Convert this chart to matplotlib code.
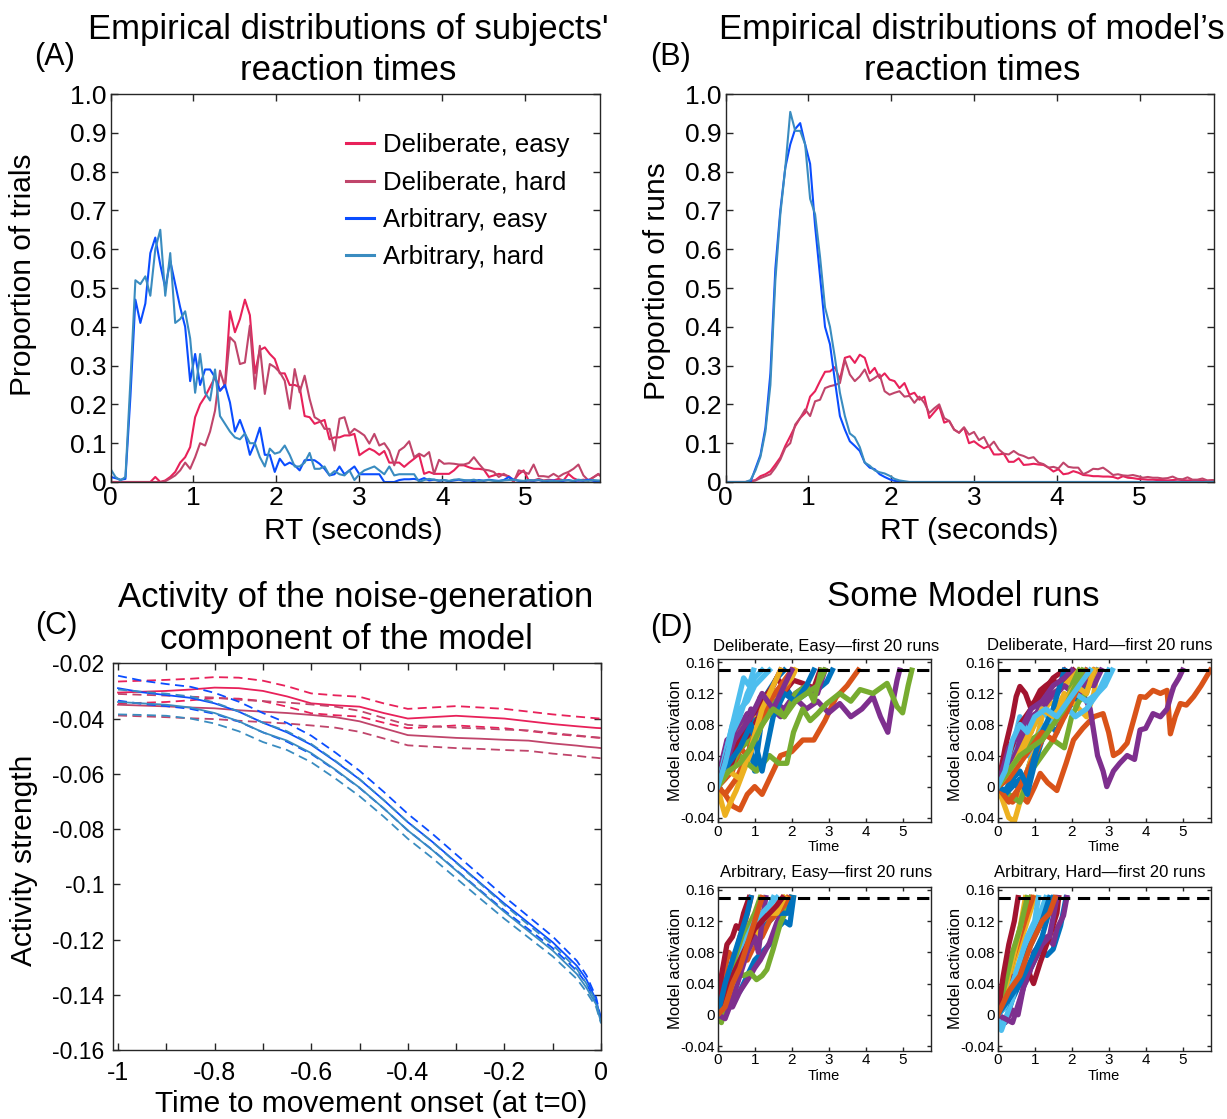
import numpy as np
import matplotlib
matplotlib.use("Agg")
import matplotlib.pyplot as plt

plt.rcParams['font.family'] = ['Liberation Sans', 'DejaVu Sans']

c_de = '#E8215A'
c_dh = '#C0456B'
c_ae = '#0A4DFF'
c_ah = '#3A8CC0'
matlab_cols = ['#0072BD', '#D95319', '#EDB120', '#7E2F8E', '#77AC30', '#4DBEEE', '#A2142F']

# RT bins (s), 0.06 s wide
rt_bins = np.arange(100) * 0.06

# (A) subjects' RT distributions
subj_de = [0, 0, 0, 0, 0, 0, 0, 0, 0,
           0.013, 0.0, 0.004, 0.013, 0.026, 0.05, 0.064, 0.09, 0.167, 0.20, 0.22,
           0.245, 0.27, 0.236, 0.25, 0.44, 0.386, 0.42, 0.47, 0.43, 0.28,
           0.34, 0.347, 0.33, 0.317, 0.28, 0.28, 0.25, 0.25, 0.245, 0.17,
           0.167, 0.15, 0.155, 0.16, 0.11, 0.115, 0.115, 0.12, 0.12, 0.124,
           0.069, 0.078, 0.086, 0.08, 0.07, 0.08, 0.05, 0.05, 0.05, 0.039,
           0.05, 0.06, 0.07, 0.021, 0.026, 0.021, 0.021, 0.021, 0.021, 0.03,
           0.043, 0.043, 0.038, 0.034, 0.034, 0.032, 0.013, 0.017, 0.021, 0.018,
           0.015, 0.004, 0.02, 0.03, 0.004, 0.004, 0.008, 0.004, 0.006, 0.004,
           0.008, 0.004, 0.021, 0.01, 0.004, 0.006, 0.004, 0.012, 0.02, 0.01]
subj_dh = [0, 0, 0, 0, 0, 0, 0, 0, 0, 0, 0,
           0.002, 0.009, 0.017, 0.03, 0.05, 0.034, 0.064, 0.10, 0.094,
           0.13, 0.184, 0.287, 0.244, 0.373, 0.36, 0.304, 0.308, 0.403, 0.24,
           0.351, 0.227, 0.304, 0.296, 0.283, 0.261, 0.189, 0.291, 0.231, 0.274,
           0.214, 0.167, 0.159, 0.137, 0.137, 0.081, 0.163, 0.167, 0.124, 0.137,
           0.129, 0.12, 0.099, 0.124, 0.094, 0.10, 0.081, 0.043, 0.081, 0.09,
           0.105, 0.064, 0.073, 0.066, 0.077, 0.021, 0.057, 0.047, 0.048, 0.047,
           0.045, 0.045, 0.049, 0.064, 0.047, 0.032, 0.03, 0.026, 0.013, 0.021,
           0.013, 0.0, 0.03, 0.026, 0.021, 0.045, 0.015, 0.015, 0.013, 0.021,
           0.013, 0.021, 0.026, 0.034, 0.045, 0.017, 0.004, 0.012, 0.021, 0.01]
subj_ae = [0.013, 0.010, 0.006, 0.008, 0.22, 0.47, 0.41, 0.46, 0.59, 0.63,
           0.56, 0.50, 0.57, 0.51, 0.45, 0.40, 0.26, 0.33, 0.25, 0.29,
           0.29, 0.27, 0.235, 0.25, 0.205, 0.13, 0.16, 0.125, 0.07, 0.10,
           0.14, 0.07, 0.07, 0.026, 0.06, 0.043, 0.05, 0.043, 0.03, 0.056,
           0.057, 0.056, 0.047, 0.034, 0.017, 0.02, 0.04, 0.02, 0.03, 0.04,
           0.02, 0.02, 0.02, 0.02, 0.02, 0.0, 0.0, 0.0, 0.005, 0.007,
           0.007, 0.008, 0.005, 0.01, 0.004, 0.006, 0.003, 0.005, 0.002, 0.004,
           0.006, 0.003, 0.004, 0.002, 0.005, 0.003, 0.006, 0.004, 0.003, 0.005,
           0.013, 0.006, 0.003, 0.002, 0.004, 0.003, 0.005, 0.002, 0.003, 0.004,
           0.002, 0.003, 0.005, 0.002, 0.004, 0.003, 0.006, 0.003, 0.002, 0.004]
subj_ah = [0.034, 0.013, 0.004, 0.013, 0.26, 0.52, 0.51, 0.53, 0.48, 0.60,
           0.65, 0.48, 0.59, 0.41, 0.42, 0.44, 0.37, 0.23, 0.33, 0.23,
           0.21, 0.29, 0.17, 0.15, 0.13, 0.115, 0.11, 0.125, 0.10, 0.10,
           0.064, 0.04, 0.086, 0.073, 0.077, 0.094, 0.07, 0.04, 0.04, 0.05,
           0.075, 0.034, 0.034, 0.04, 0.017, 0.028, 0.02, 0.017, 0.03, 0.005,
           0.02, 0.03, 0.035, 0.04, 0.03, 0.02, 0.04, 0.017, 0.02, 0.02,
           0.02, 0.02, 0.0, 0.005, 0.008, 0.006, 0.004, 0.005, 0.003, 0.006,
           0.007, 0.005, 0.004, 0.006, 0.003, 0.004, 0.005, 0.003, 0.002, 0.004,
           0.005, 0.006, 0.004, 0.003, 0.005, 0.004, 0.006, 0.003, 0.004, 0.002,
           0.003, 0.005, 0.004, 0.003, 0.006, 0.004, 0.003, 0.005, 0.004, 0.003]

# (B) model RT distributions
model_de = [0, 0, 0, 0, 0, 0.002, 0.005, 0.015, 0.02, 0.028,
            0.045, 0.063, 0.093, 0.118, 0.144, 0.165, 0.178, 0.22, 0.234, 0.26,
            0.284, 0.285, 0.296, 0.264, 0.32, 0.324, 0.307, 0.328, 0.32, 0.28,
            0.294, 0.268, 0.28, 0.264, 0.26, 0.242, 0.255, 0.225, 0.23, 0.212,
            0.22, 0.165, 0.18, 0.195, 0.153, 0.158, 0.135, 0.127, 0.14, 0.10,
            0.105, 0.095, 0.087, 0.093, 0.071, 0.071, 0.073, 0.052, 0.052, 0.061,
            0.044, 0.045, 0.047, 0.045, 0.044, 0.037, 0.027, 0.033, 0.02, 0.022,
            0.028, 0.024, 0.018, 0.017, 0.015, 0.015, 0.014, 0.014, 0.013, 0.009,
            0.015, 0.011, 0.01, 0.008, 0.007, 0.006, 0.006, 0.005, 0.005, 0.004,
            0.005, 0.006, 0.005, 0.004, 0.005, 0.004, 0.004, 0.003, 0.004, 0.003]
model_dh = [0, 0, 0, 0, 0, 0.002, 0.004, 0.01, 0.015, 0.02,
            0.037, 0.058, 0.088, 0.10, 0.148, 0.165, 0.187, 0.17, 0.208, 0.212,
            0.242, 0.247, 0.25, 0.255, 0.315, 0.277, 0.26, 0.272, 0.29, 0.26,
            0.268, 0.277, 0.234, 0.225, 0.23, 0.234, 0.22, 0.222, 0.204, 0.22,
            0.204, 0.178, 0.19, 0.20, 0.165, 0.157, 0.135, 0.127, 0.141, 0.122,
            0.129, 0.108, 0.116, 0.091, 0.104, 0.084, 0.073, 0.071, 0.08, 0.071,
            0.067, 0.061, 0.064, 0.05, 0.046, 0.037, 0.039, 0.035, 0.05, 0.039,
            0.037, 0.037, 0.02, 0.026, 0.034, 0.033, 0.037, 0.028, 0.018, 0.02,
            0.017, 0.016, 0.018, 0.015, 0.011, 0.013, 0.011, 0.011, 0.009, 0.01,
            0.014, 0.008, 0.007, 0.012, 0.006, 0.006, 0.009, 0.004, 0.005, 0.003]
model_ae = [0, 0, 0, 0, 0, 0, 0.035, 0.07, 0.14, 0.28,
            0.55, 0.70, 0.81, 0.87, 0.91, 0.925, 0.87, 0.82, 0.66, 0.53,
            0.40, 0.355, 0.26, 0.17, 0.135, 0.105, 0.093, 0.08, 0.05, 0.037,
            0.033, 0.02, 0.013, 0.007, 0.003, 0.001, 0, 0, 0, 0] + [0.0] * 60
model_ah = [0, 0, 0, 0, 0, 0.005, 0.03, 0.065, 0.13, 0.25,
            0.52, 0.69, 0.81, 0.954, 0.905, 0.905, 0.87, 0.73, 0.69, 0.58,
            0.45, 0.40, 0.32, 0.23, 0.17, 0.125, 0.115, 0.09, 0.05, 0.042,
            0.03, 0.025, 0.022, 0.016, 0.008, 0.004, 0.002, 0, 0, 0] + [0.0] * 60

# (C) noise-generation activity, mean and s.e.m.
c_time = [-1.0, -0.95, -0.9, -0.85, -0.8, -0.75, -0.7, -0.65, -0.6, -0.55, -0.5, -0.45,
          -0.4, -0.35, -0.3, -0.25, -0.2, -0.15, -0.1, -0.05, -0.03, -0.01, 0.0]
act_de = [-0.0306, -0.0303, -0.030, -0.0295, -0.0288, -0.029, -0.030, -0.032, -0.0345, -0.0352,
          -0.0357, -0.038, -0.040, -0.0395, -0.039, -0.0395, -0.040, -0.041, -0.042, -0.0428,
          -0.0431, -0.0434, -0.0435]
act_dh = [-0.035, -0.0353, -0.0356, -0.036, -0.0363, -0.037, -0.0375, -0.038, -0.0387, -0.0395,
          -0.041, -0.0435, -0.046, -0.0465, -0.047, -0.0473, -0.0477, -0.048, -0.049, -0.0498,
          -0.0502, -0.0505, -0.0507]
act_ae = [-0.029, -0.0305, -0.0315, -0.0325, -0.0345, -0.0375, -0.0415, -0.045, -0.0495, -0.0555,
          -0.062, -0.0695, -0.0775, -0.0845, -0.092, -0.0995, -0.107, -0.114, -0.121, -0.1295,
          -0.1345, -0.142, -0.149]
act_ah = [-0.034, -0.0345, -0.035, -0.036, -0.038, -0.041, -0.045, -0.048, -0.0525, -0.0585,
          -0.065, -0.0725, -0.0805, -0.0875, -0.095, -0.1025, -0.110, -0.117, -0.124, -0.1325,
          -0.1375, -0.1435, -0.150]
sem_de = [0.004, 0.004, 0.004, 0.0039, 0.0038, 0.0038, 0.0037, 0.0037, 0.0036, 0.0036, 0.0036,
          0.0035, 0.0035, 0.0035, 0.0035, 0.0035, 0.0035, 0.0035, 0.0035, 0.0035, 0.0035, 0.0035, 0.0035]
sem_dh = [0.0039, 0.0039, 0.0039, 0.0039, 0.0039, 0.0038, 0.0038, 0.0038, 0.0038, 0.0038, 0.0038,
          0.0037, 0.0037, 0.0037, 0.0037, 0.0037, 0.0037, 0.0037, 0.0037, 0.0037, 0.0037, 0.0037, 0.0037]
sem_ae = [0.0045, 0.0042, 0.004, 0.004, 0.0038, 0.0036, 0.0035, 0.0034, 0.0033, 0.0032, 0.0031,
          0.003, 0.003, 0.0029, 0.0028, 0.0027, 0.0025, 0.0023, 0.0021, 0.0018, 0.0015, 0.001, 0.0003]
sem_ah = [0.0045, 0.0042, 0.004, 0.004, 0.0038, 0.0036, 0.0035, 0.0034, 0.0033, 0.0032, 0.0031,
          0.003, 0.003, 0.0029, 0.0028, 0.0027, 0.0025, 0.0023, 0.0021, 0.0018, 0.0015, 0.001, 0.0003]

# (D) example model runs (time, activation)
runs_de = [
    ([0, 0.2, 0.4, 0.6, 0.8, 1.0, 1.2, 1.5, 1.8, 2.1, 2.4, 2.7, 2.95, 3.1],
     [0.0, 0.02, 0.03, 0.05, 0.07, 0.02, 0.09, 0.12, 0.13, 0.11, 0.12, 0.125, 0.135, 0.15]),
    ([0, 0.2, 0.4, 0.6, 0.8, 1.0, 1.2, 1.4, 1.7, 2.0, 2.3, 2.6, 2.9, 3.2, 3.5, 3.8],
     [0.0, -0.01, -0.025, -0.03, -0.01, 0.0, -0.01, 0.01, 0.04, 0.045, 0.06, 0.06, 0.085, 0.115, 0.13, 0.15]),
    ([0, 0.1, 0.2, 0.35, 0.5, 0.7, 0.9, 1.15, 1.4, 1.7, 1.95, 2.05],
     [0.0, -0.02, -0.037, -0.02, -0.005, 0.02, 0.045, 0.075, 0.095, 0.128, 0.137, 0.15]),
    ([0, 0.1, 0.25, 0.5, 0.8, 1.1, 1.4, 1.7, 2.05, 2.4, 2.7, 3.0, 3.3, 3.6, 3.9, 4.2, 4.4, 4.6, 4.7, 4.85, 4.92],
     [0.0, 0.03, 0.06, 0.07, 0.094, 0.08, 0.103, 0.09, 0.116, 0.1, 0.11, 0.095, 0.107, 0.09, 0.1, 0.116, 0.09, 0.07, 0.1, 0.137, 0.15]),
    ([0, 0.2, 0.4, 0.6, 0.8, 1.05, 1.4, 1.65, 1.87, 2.05, 2.3, 2.5, 2.7, 2.95, 3.3, 3.6, 3.85, 4.2, 4.58, 4.85, 5.0, 5.15, 5.25],
     [0.0, 0.01, 0.03, 0.04, 0.03, 0.02, 0.04, 0.03, 0.03, 0.07, 0.1, 0.085, 0.094, 0.107, 0.12, 0.11, 0.125, 0.12, 0.133, 0.103, 0.095, 0.13, 0.15]),
    ([0, 0.15, 0.3, 0.5, 0.7, 0.85, 0.97], [0.0, 0.03, 0.06, 0.1, 0.14, 0.13, 0.15]),
    ([0, 0.25, 0.5, 0.8, 1.0, 1.15, 1.4, 1.6, 1.85, 2.05, 2.3, 2.6, 2.77],
     [0.0, 0.017, 0.04, 0.06, 0.09, 0.115, 0.12, 0.14, 0.125, 0.137, 0.133, 0.127, 0.15]),
    ([0, 0.2, 0.4, 0.6, 0.8, 1.0, 1.2, 1.4, 1.6, 1.8], [0.0, 0.02, 0.04, 0.06, 0.075, 0.095, 0.11, 0.125, 0.14, 0.15]),
    ([0, 0.2, 0.4, 0.6, 0.8, 1.0, 1.3, 1.6, 1.9, 2.05], [0.0, 0.01, 0.02, 0.05, 0.04, 0.07, 0.09, 0.11, 0.13, 0.15]),
    ([0, 0.3, 0.6, 0.9, 1.2, 1.5, 1.8, 2.0, 2.1], [0.0, 0.03, 0.07, 0.09, 0.1, 0.12, 0.13, 0.14, 0.15]),
    ([0, 0.3, 0.6, 0.9, 1.2, 1.5, 1.8, 2.1, 2.4, 2.7, 2.9], [0.0, 0.04, 0.06, 0.1, 0.09, 0.11, 0.1, 0.12, 0.13, 0.12, 0.15]),
    ([0, 0.3, 0.6, 0.9, 1.2, 1.5, 1.8, 2.1, 2.4, 2.6, 2.8], [0.0, 0.02, 0.05, 0.06, 0.08, 0.11, 0.09, 0.12, 0.13, 0.11, 0.15]),
    ([0, 0.2, 0.4, 0.6, 0.8, 1.0, 1.2, 1.4], [0.0, 0.04, 0.08, 0.1, 0.11, 0.13, 0.14, 0.15]),
    ([0, 0.3, 0.6, 0.9, 1.2, 1.5, 1.7], [0.0, 0.02, 0.06, 0.09, 0.11, 0.13, 0.15]),
    ([0, 0.3, 0.6, 0.9, 1.2, 1.5, 1.8, 2.1, 2.4, 2.6], [0.0, 0.03, 0.05, 0.08, 0.02, 0.09, 0.12, 0.11, 0.13, 0.15]),
    ([0, 0.2, 0.5, 0.8, 1.1, 1.4, 1.7, 2.0], [0.0, -0.01, 0.01, 0.04, 0.08, 0.11, 0.13, 0.15]),
    ([0, 0.3, 0.6, 0.9, 1.2, 1.5, 1.7], [0.0, 0.02, 0.01, 0.05, 0.1, 0.13, 0.15]),
    ([0, 0.3, 0.6, 0.9, 1.2, 1.5, 1.8, 2.0], [0.0, 0.05, 0.07, 0.09, 0.12, 0.1, 0.13, 0.15]),
    ([0, 0.3, 0.6, 0.9, 1.2, 1.5, 1.8, 2.1, 2.4, 2.7, 2.9], [0.0, 0.02, 0.03, 0.05, 0.08, 0.1, 0.09, 0.11, 0.12, 0.13, 0.15]),
    ([0, 0.2, 0.4, 0.6, 0.8, 1.0, 1.2], [0.0, 0.03, 0.07, 0.09, 0.12, 0.14, 0.15]),
]
runs_dh = [
    ([0, 0.2, 0.4, 0.6, 0.8, 1.0, 1.3, 1.6, 1.9, 2.2, 2.5, 2.7],
     [0.0, -0.01, 0.01, -0.005, 0.02, 0.05, 0.07, 0.09, 0.1, 0.12, 0.13, 0.15]),
    ([0, 0.2, 0.4, 0.6, 0.8, 1.0, 1.15, 1.35, 1.6, 1.85, 2.05, 2.3, 2.6, 2.85, 3.0, 3.13, 3.3, 3.5, 3.7, 3.85,
      4.0, 4.2, 4.4, 4.58, 4.67, 4.8, 4.94, 5.1, 5.3, 5.5, 5.75],
     [0.0, -0.013, -0.02, -0.01, -0.02, 0.0, 0.017, 0.005, -0.005, 0.03, 0.06, 0.075, 0.09, 0.094, 0.07, 0.04,
      0.045, 0.056, 0.09, 0.116, 0.115, 0.124, 0.12, 0.124, 0.068, 0.09, 0.107, 0.105, 0.116, 0.13, 0.15]),
    ([0, 0.15, 0.3, 0.45, 0.6, 0.8, 1.0, 1.2, 1.4, 1.6, 1.8, 2.0, 2.2, 2.4, 2.6, 2.7],
     [0.0, -0.02, -0.04, -0.045, -0.02, 0.02, 0.05, 0.09, 0.11, 0.1, 0.12, 0.11, 0.1, 0.09, 0.12, 0.15]),
    ([0, 0.25, 0.5, 0.7, 0.9, 1.1, 1.3, 1.6, 1.8, 2.05, 2.3, 2.5, 2.6, 2.7, 2.85, 2.95, 3.13, 3.3, 3.5, 3.7,
      3.85, 4.0, 4.2, 4.4, 4.58, 4.7, 4.76, 4.9, 5.0],
     [0.0, 0.04, 0.06, 0.085, 0.07, 0.1, 0.11, 0.12, 0.13, 0.12, 0.12, 0.1, 0.07, 0.04, 0.02, 0.0, 0.02, 0.03,
      0.04, 0.035, 0.073, 0.075, 0.094, 0.09, 0.1, 0.12, 0.129, 0.14, 0.15]),
    ([0, 0.3, 0.6, 0.9, 1.2, 1.5, 1.8, 2.0, 2.2, 2.4, 2.6], [0.0, -0.01, -0.02, 0.02, 0.04, 0.06, 0.05, 0.09, 0.11, 0.12, 0.15]),
    ([0, 0.2, 0.4, 0.6, 0.8, 1.0, 1.3, 1.6, 1.9, 2.1, 2.4, 2.7, 2.9, 3.1],
     [0.0, 0.02, 0.04, 0.05, 0.04, 0.06, 0.08, 0.09, 0.1, 0.09, 0.1, 0.12, 0.13, 0.15]),
    ([0, 0.2, 0.4, 0.5, 0.6, 0.75, 0.88, 1.0, 1.15, 1.3, 1.5, 1.7, 1.87, 2.05],
     [0.0, 0.05, 0.09, 0.116, 0.129, 0.12, 0.103, 0.11, 0.124, 0.13, 0.137, 0.13, 0.14, 0.15]),
    ([0, 0.2, 0.4, 0.6, 0.8, 1.0, 1.2, 1.4, 1.6, 1.8, 2.0, 2.2, 2.4],
     [0.0, -0.01, 0.0, 0.01, -0.01, 0.03, 0.06, 0.08, 0.07, 0.1, 0.12, 0.13, 0.15]),
    ([0, 0.3, 0.6, 0.9, 1.2, 1.5, 1.8, 2.1, 2.4, 2.6], [0.0, -0.02, 0.0, 0.03, 0.06, 0.08, 0.09, 0.12, 0.14, 0.15]),
    ([0, 0.3, 0.6, 0.9, 1.2, 1.5, 1.8, 2.0, 2.2], [0.0, 0.02, 0.05, 0.08, 0.1, 0.12, 0.13, 0.14, 0.15]),
    ([0, 0.3, 0.6, 0.9, 1.2, 1.5, 1.8, 2.1, 2.4, 2.6, 2.8], [0.0, 0.03, 0.06, 0.09, 0.1, 0.12, 0.13, 0.12, 0.135, 0.13, 0.15]),
    ([0, 0.3, 0.6, 0.9, 1.2, 1.5, 1.8, 2.0, 2.2], [0.0, 0.01, 0.03, 0.06, 0.07, 0.08, 0.1, 0.13, 0.15]),
    ([0, 0.2, 0.4, 0.6, 0.8, 1.0, 1.2, 1.5, 1.8, 2.1, 2.4, 2.7, 3.0],
     [0.0, 0.03, 0.05, 0.09, 0.07, 0.08, 0.1, 0.08, 0.1, 0.12, 0.11, 0.12, 0.15]),
    ([0, 0.3, 0.6, 0.9, 1.2, 1.5, 1.8], [0.0, 0.04, 0.08, 0.1, 0.12, 0.14, 0.15]),
    ([0, 0.2, 0.4, 0.6, 0.8, 1.0, 1.2, 1.5, 1.8], [0.0, -0.005, 0.01, 0.02, 0.0, 0.04, 0.07, 0.1, 0.15]),
    ([0, 0.3, 0.6, 0.9, 1.2, 1.5, 1.8, 2.1, 2.4], [0.0, 0.01, 0.03, 0.05, 0.07, 0.06, 0.09, 0.12, 0.15]),
    ([0, 0.3, 0.6, 0.9, 1.2, 1.5, 1.8, 2.1, 2.4, 2.6], [0.0, 0.02, 0.04, 0.07, 0.1, 0.09, 0.11, 0.13, 0.12, 0.15]),
    ([0, 0.3, 0.6, 0.9, 1.2, 1.5, 1.8, 2.0], [0.0, 0.05, 0.07, 0.1, 0.11, 0.13, 0.14, 0.15]),
    ([0, 0.3, 0.6, 0.9, 1.2, 1.5, 1.8, 2.1, 2.3], [0.0, 0.02, 0.04, 0.05, 0.06, 0.08, 0.1, 0.13, 0.15]),
    ([0, 0.2, 0.4, 0.6, 0.8, 1.0, 1.3, 1.6, 1.9, 2.2, 2.5], [0.0, 0.02, 0.06, 0.08, 0.07, 0.09, 0.1, 0.09, 0.11, 0.13, 0.15]),
]
runs_ae = [
    ([0, 0.2, 0.4, 0.6, 0.8, 1.0, 1.2, 1.4, 1.6, 1.8, 1.95, 2.05],
     [0.0, 0.01, 0.02, 0.03, 0.05, 0.07, 0.08, 0.09, 0.11, 0.12, 0.115, 0.15]),
    ([0, 0.15, 0.3, 0.45, 0.6, 0.75, 0.9], [0.0, 0.05, 0.08, 0.07, 0.1, 0.12, 0.15]),
    ([0, 0.2, 0.4, 0.6, 0.8, 1.0, 1.2, 1.4, 1.6, 1.8], [0.0, 0.03, 0.04, 0.06, 0.08, 0.09, 0.11, 0.12, 0.14, 0.15]),
    ([0, 0.2, 0.4, 0.6, 0.88, 1.0, 1.15, 1.4, 1.6, 1.82, 1.96],
     [0.0, 0.01, 0.01, 0.03, 0.05, 0.06, 0.07, 0.092, 0.118, 0.14, 0.15]),
    ([0, 0.1, 0.3, 0.5, 0.7, 0.88, 1.05, 1.2, 1.33, 1.5, 1.7, 1.87, 2.0],
     [0.0, -0.01, 0.03, 0.058, 0.05, 0.054, 0.045, 0.05, 0.058, 0.084, 0.118, 0.135, 0.15]),
    ([0, 0.15, 0.3, 0.45, 0.6, 0.8, 1.0, 1.2, 1.4, 1.6], [0.0, 0.01, 0.03, 0.06, 0.09, 0.11, 0.12, 0.13, 0.14, 0.15]),
    ([0, 0.1, 0.25, 0.4, 0.5, 0.6, 0.7, 0.85], [0.0, 0.05, 0.09, 0.1, 0.114, 0.11, 0.13, 0.15]),
    ([0, 0.2, 0.4, 0.6, 0.8, 1.0, 1.2, 1.4, 1.6, 1.9, 2.0], [0.0, 0.02, 0.04, 0.06, 0.08, 0.1, 0.11, 0.12, 0.13, 0.13, 0.15]),
    ([0, 0.2, 0.4, 0.6, 0.8, 1.0, 1.2, 1.4, 1.6, 1.8, 1.9], [0.0, 0.03, 0.06, 0.08, 0.07, 0.09, 0.1, 0.12, 0.13, 0.14, 0.15]),
    ([0, 0.2, 0.4, 0.6, 0.8, 1.0, 1.2, 1.4, 1.6, 1.8], [0.0, 0.02, 0.05, 0.06, 0.08, 0.1, 0.12, 0.13, 0.13, 0.15]),
    ([0, 0.2, 0.4, 0.6, 0.8, 1.0, 1.1, 1.2, 1.3], [0.0, -0.005, 0.02, 0.05, 0.08, 0.1, 0.08, 0.12, 0.15]),
    ([0, 0.2, 0.4, 0.6, 0.8, 1.0, 1.15], [0.0, 0.02, 0.06, 0.08, 0.11, 0.13, 0.15]),
    ([0, 0.2, 0.4, 0.6, 0.8, 1.0, 1.2, 1.4, 1.5], [0.0, 0.02, 0.04, 0.07, 0.1, 0.12, 0.13, 0.14, 0.15]),
    ([0, 0.2, 0.4, 0.6, 0.8, 1.0, 1.2, 1.4, 1.6, 1.75], [0.0, 0.03, 0.05, 0.07, 0.09, 0.11, 0.12, 0.13, 0.14, 0.15]),
    ([0, 0.2, 0.4, 0.6, 0.8, 0.9], [0.0, 0.04, 0.07, 0.1, 0.13, 0.15]),
    ([0, 0.2, 0.4, 0.6, 0.8, 1.0, 1.2], [0.0, 0.01, 0.04, 0.06, 0.09, 0.12, 0.15]),
]
runs_ah = [
    ([0, 0.2, 0.4, 0.6, 0.8, 1.0, 1.15, 1.33, 1.5, 1.7, 1.85],
     [0.0, -0.01, 0.02, 0.04, 0.05, 0.07, 0.084, 0.076, 0.084, 0.114, 0.15]),
    ([0, 0.15, 0.3, 0.45, 0.6, 0.75, 0.9], [0.0, 0.03, 0.05, 0.08, 0.1, 0.13, 0.15]),
    ([0, 0.15, 0.3, 0.45, 0.6, 0.8, 1.0], [0.0, 0.02, 0.04, 0.07, 0.09, 0.12, 0.15]),
    ([0, 0.2, 0.4, 0.55, 0.7, 0.85, 0.97, 1.15, 1.33, 1.5, 1.6, 1.78, 1.87],
     [0.0, -0.01, 0.006, 0.0, 0.036, 0.05, 0.08, 0.09, 0.1, 0.09, 0.11, 0.127, 0.15]),
    ([0, 0.15, 0.3, 0.45, 0.6, 0.75, 0.9], [0.0, 0.02, 0.05, 0.08, 0.11, 0.13, 0.15]),
    ([0, 0.1, 0.25, 0.4, 0.55, 0.7, 0.85, 1.0, 1.15, 1.3], [0.0, -0.02, 0.0, 0.02, 0.05, 0.08, 0.09, 0.11, 0.13, 0.15]),
    ([0, 0.2, 0.35, 0.5, 0.65, 0.8, 0.97, 1.15, 1.4, 1.6, 1.65],
     [0.0, 0.04, 0.05, 0.04, 0.05, 0.058, 0.04, 0.067, 0.1, 0.13, 0.15]),
    ([0, 0.2, 0.4, 0.6, 0.8, 1.0, 1.2, 1.4], [0.0, 0.01, 0.03, 0.06, 0.08, 0.1, 0.12, 0.15]),
    ([0, 0.2, 0.4, 0.6, 0.8, 0.95], [0.0, 0.04, 0.07, 0.1, 0.13, 0.15]),
    ([0, 0.2, 0.4, 0.6, 0.75], [0.0, 0.03, 0.07, 0.11, 0.15]),
    ([0, 0.2, 0.4, 0.6, 0.8, 1.0, 1.2, 1.4, 1.6], [0.0, -0.005, -0.01, 0.02, 0.05, 0.07, 0.09, 0.1, 0.15]),
    ([0, 0.2, 0.4, 0.6, 0.8], [0.0, 0.04, 0.08, 0.11, 0.15]),
    ([0, 0.2, 0.4, 0.6, 0.8, 1.0, 1.1], [0.0, 0.01, 0.04, 0.07, 0.1, 0.12, 0.15]),
    ([0, 0.15, 0.3, 0.45, 0.55], [0.0, 0.05, 0.09, 0.12, 0.15]),
    ([0, 0.3, 0.6, 0.9, 1.2, 1.5], [0.0, 0.02, 0.04, 0.07, 0.1, 0.15]),
    ([0, 0.3, 0.6, 0.9, 1.2, 1.4, 1.55], [0.0, 0.03, 0.05, 0.09, 0.12, 0.13, 0.15]),
]
threshold = 0.15

labels = ['Deliberate, easy', 'Deliberate, hard', 'Arbitrary, easy', 'Arbitrary, hard']
colors = [c_de, c_dh, c_ae, c_ah]

W, H = 1227, 1119
fig = plt.figure(figsize=(W / 100, H / 100), dpi=100)


def box(l, t, r, b):
    return [l / W, 1 - b / H, (r - l) / W, (b - t) / H]


def ftext(x, y, s, **kw):
    fig.text(x / W, 1 - y / H, s, ha='center', va='center', **kw)


def style(ax, size, pad=3, length=5):
    ax.tick_params(which='both', direction='in', top=True, right=True, labelsize=size,
                   width=1, color='#262626', pad=pad, length=length)
    for s in ax.spines.values():
        s.set_color('#262626')
        s.set_linewidth(1.0)


axA = fig.add_axes(box(110.5, 94, 600, 482))
axB = fig.add_axes(box(725.7, 94, 1214, 482))
axC = fig.add_axes(box(112.7, 663.3, 601, 1050))

ylab_ab = ['0', '0.1', '0.2', '0.3', '0.4', '0.5', '0.6', '0.7', '0.8', '0.9', '1.0']
for ax, series in [(axA, [subj_de, subj_dh, subj_ae, subj_ah]),
                   (axB, [model_de, model_dh, model_ae, model_ah])]:
    for y, col, lab in zip(series, colors, labels):
        ax.plot(rt_bins, y, color=col, lw=1.5, label=lab)
    ax.set_xlim(0, 5.9)
    ax.set_ylim(0, 1.0)
    ax.set_xticks([0, 1, 2, 3, 4, 5])
    ax.set_yticks(np.arange(11) / 10)
    ax.set_yticklabels(ylab_ab)
    style(ax, 19, pad=3)

leg = axA.legend(loc='upper left', bbox_to_anchor=(0.46, 0.925), frameon=False, fontsize=18.5,
                 handlelength=1.1, handletextpad=0.35, labelspacing=0.52, borderaxespad=0)
for h in leg.legend_handles:
    h.set_linewidth(2.2)

# (C)
for mean, sem, col in [(act_de, sem_de, c_de), (act_dh, sem_dh, c_dh),
                       (act_ae, sem_ae, c_ae), (act_ah, sem_ah, c_ah)]:
    m = np.array(mean)
    s = np.array(sem)
    axC.plot(c_time, m, color=col, lw=1.3)
    axC.plot(c_time, m + s, color=col, lw=1.3, ls=(0, (5, 3)))
    axC.plot(c_time, m - s, color=col, lw=1.3, ls=(0, (5, 3)))
axC.set_xlim(-1.011, 0)
axC.set_ylim(-0.16, -0.02)
axC.set_xticks([-1, -0.8, -0.6, -0.4, -0.2, 0])
axC.set_xticklabels(['-1', '-0.8', '-0.6', '-0.4', '-0.2', '0'])
axC.set_xticks([-0.9, -0.7, -0.5, -0.3, -0.1], minor=True)
axC.set_yticks([-0.16, -0.14, -0.12, -0.1, -0.08, -0.06, -0.04, -0.02])
axC.set_yticklabels(['-0.16', '-0.14', '-0.12', '-0.1', '-0.08', '-0.06', '-0.04', '-0.02'])
style(axC, 18, pad=8)
axC.tick_params(axis='y', labelsize=16.5, pad=6)

# (D)
d_boxes = [box(717.7, 659.3, 930.7, 822.3), box(997.7, 659.3, 1210.7, 822.3),
           box(717.7, 886.7, 930.7, 1050.7), box(997.7, 886.7, 1210.7, 1050.7)]
d_titles = ['Deliberate, Easy\u2014first 20 runs', 'Deliberate, Hard\u2014first 20 runs',
            'Arbitrary, Easy\u2014first 20 runs', 'Arbitrary, Hard\u2014first 20 runs']
d_runs = [runs_de, runs_dh, runs_ae, runs_ah]
d_title_pos = [(826, 646), (1100, 646), (826, 873), (1100, 873)]
for i in range(4):
    ax = fig.add_axes(d_boxes[i])
    for j, (t, y) in enumerate(d_runs[i]):
        ax.plot(t, y, color=matlab_cols[j % 7], lw=3.8)
    ax.axhline(threshold, color='k', lw=2.2, ls=(0, (4, 2.5)))
    ax.set_xlim(0, 5.76)
    ax.set_ylim(-0.046, 0.164)
    ax.set_xticks([0, 1, 2, 3, 4, 5])
    ax.set_yticks([-0.04, 0, 0.04, 0.08, 0.12, 0.16])
    ax.set_yticklabels(['-0.04', '0', '0.04', '0.08', '0.12', '0.16'])
    style(ax, 11, pad=2, length=3)
    x0 = d_boxes[i][0] * W
    ytop = (1 - d_boxes[i][1] - d_boxes[i][3]) * H
    ybot = (1 - d_boxes[i][1]) * H
    ftext(d_title_pos[i][0], d_title_pos[i][1], d_titles[i], fontsize=12)
    ftext(x0 - 42, (ytop + ybot) / 2, 'Model activation', fontsize=12, rotation=90)
    ftext(x0 + 106.5, ybot + 25, 'Time', fontsize=10.5)

# titles and labels
ftext(348, 30, "Empirical distributions of subjects'", fontsize=25)
ftext(348, 70, 'reaction times', fontsize=25)
ftext(972, 30, 'Empirical distributions of model\u2019s', fontsize=25)
ftext(972, 70, 'reaction times', fontsize=25)
ftext(356, 598, 'Activity of the noise-generation', fontsize=25)
ftext(346, 640, 'component of the model', fontsize=25)
ftext(963, 596, 'Some Model runs', fontsize=25)
ftext(55, 57, '(A)', fontsize=22)
ftext(670, 57, '(B)', fontsize=22)
ftext(56, 626, '(C)', fontsize=22)
ftext(671, 628, '(D)', fontsize=22)

ftext(353, 531, 'RT (seconds)', fontsize=21.5)
ftext(969, 531, 'RT (seconds)', fontsize=21.5)
ftext(23, 275, 'Proportion of trials', fontsize=21.5, rotation=90)
ftext(657, 281, 'Proportion of runs', fontsize=21.5, rotation=90)
ftext(24, 860, 'Activity strength', fontsize=21.5, rotation=90)
ftext(371, 1104, 'Time to movement onset (at t=0)', fontsize=21.5)

fig.savefig('out.png', dpi=100)
